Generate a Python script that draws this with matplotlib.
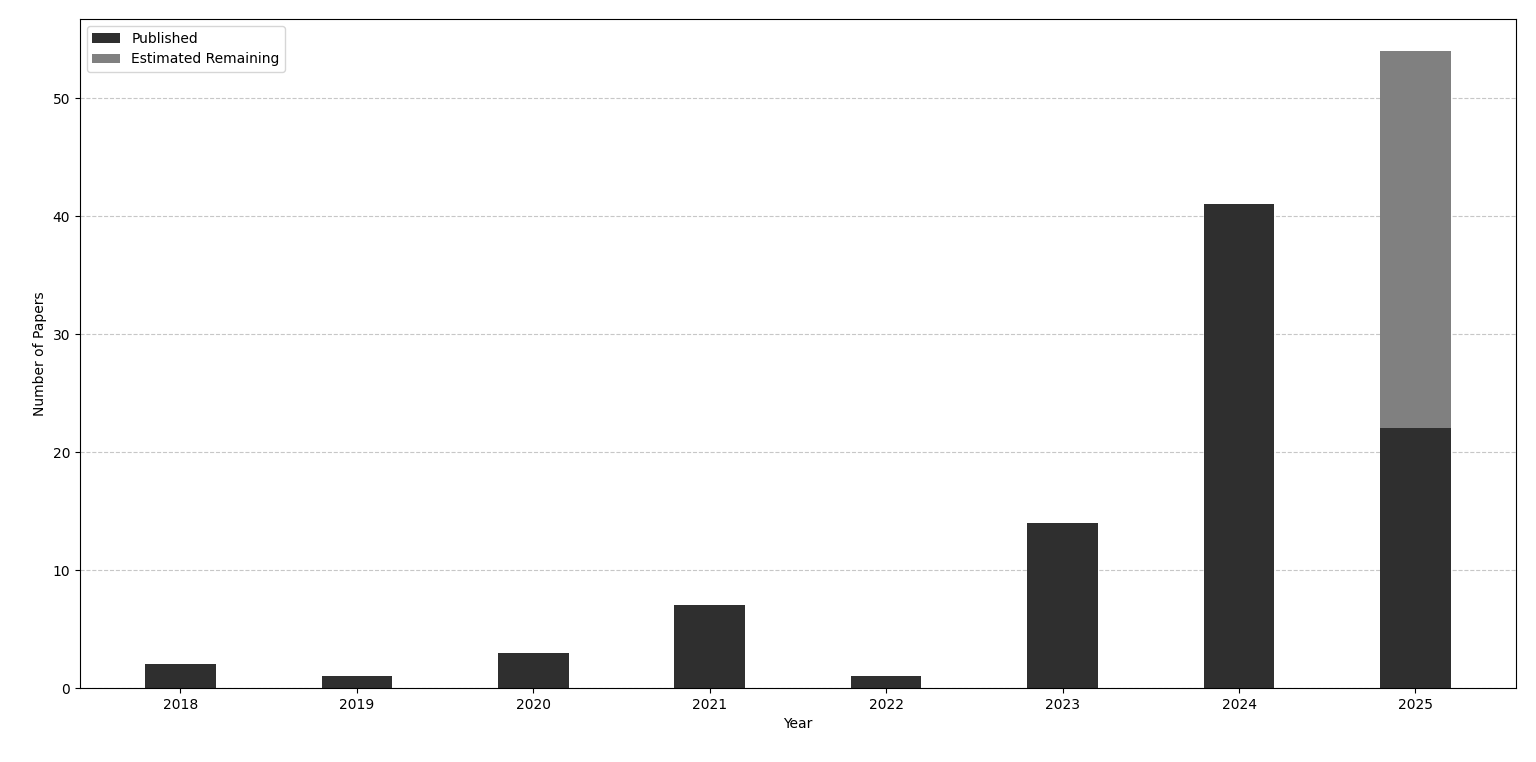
import matplotlib
matplotlib.use("Agg")
import matplotlib.pyplot as plt
import numpy as np

years = [2018, 2019, 2020, 2021, 2022, 2023, 2024, 2025]
published = [2, 1, 3, 7, 1, 14, 41, 22]
remaining = [0, 0, 0, 0, 0, 0, 0, 32]

fig, ax = plt.subplots(figsize=(15.36, 7.62), dpi=100)
fig.subplots_adjust(left=0.052, right=0.987, top=0.975, bottom=0.097)

x = np.arange(len(years))
ax.bar(x, published, width=0.4, color='#2f2f2f', label='Published', zorder=2)
ax.bar(x[-1:], remaining[-1:], width=0.4, bottom=published[-1:], color='#808080',
       label='Estimated Remaining', zorder=2)

ax.set_xticks(x)
ax.set_xticklabels([str(y) for y in years])
ax.set_xlabel('Year')
ax.set_ylabel('Number of Papers')
ax.grid(axis='y', linestyle='--', alpha=0.7, zorder=0)
ax.legend(loc='upper left')

fig.savefig('out.png', dpi=100)
